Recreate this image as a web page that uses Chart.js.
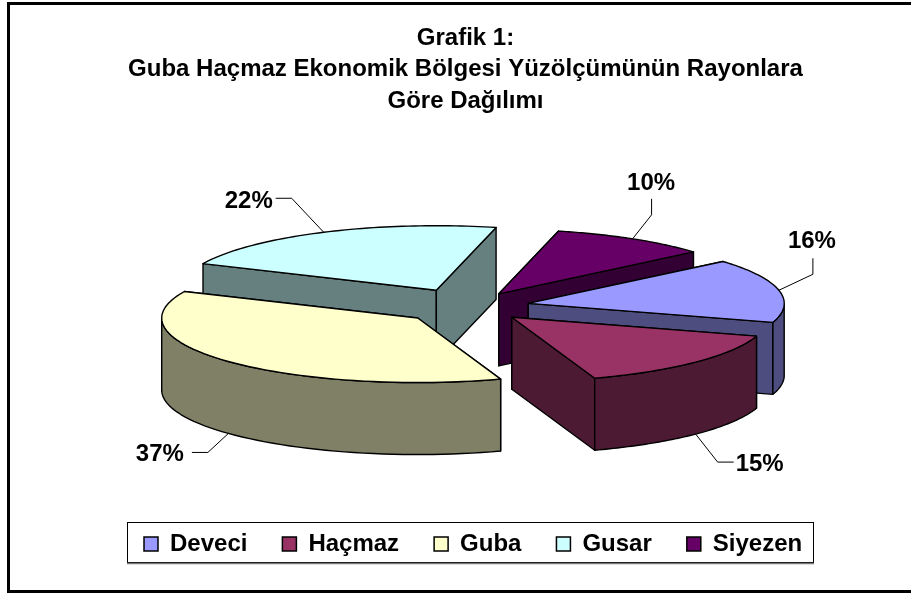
<!DOCTYPE html>
<html><head><meta charset="utf-8">
<style>html,body{margin:0;padding:0;background:#fff}canvas{display:block}</style>
<script src="https://cdn.jsdelivr.net/npm/chart.js@4"></script>
</head><body><canvas id="c" width="911" height="595"></canvas>
<script>
const categories = ['Deveci','Haçmaz','Guba','Gusar','Siyezen'];
const shares = [16,15,37,22,10];
const topColors = ['#9999FF','#993366','#FFFFCC','#CCFFFF','#660066'];
const sideColors = ['#4D4D80','#4D1A33','#808066','#668080','#330033'];
const titleLines = ['Grafik 1:','Guba Haçmaz Ekonomik Bölgesi Yüzölçümünün Rayonlara','Göre Dağılımı'];

const view = {cx:468, cy:306.5, squash:0.252, depth:72, explode:[61.5,61,68,72,59],
  wallOrder:[3,4,0,2,1]};
const callouts = [
 {elbow:[34,-16],end:[34,-32],text:[33,-49],wall:false},
 {elbow:[22,28],end:[38,28],text:[64,30],wall:true},
 {elbow:[-20.5,19],end:[-36.5,19],text:[-68.5,21],wall:true},
 {elbow:[-32,-34],end:[-48,-34],text:[-75,-31],wall:false},
 {elbow:[19,-24],end:[19,-40],text:[18.5,-55.5],wall:false}];

function apexOf(arc,i){
  const mid=(arc.startAngle+arc.endAngle)/2, e=view.explode[i];
  return {x:view.cx+e*Math.cos(mid), y:view.cy+e*Math.sin(mid)*view.squash};
}
function rimPoint(arc,i,a,dy){
  const p=apexOf(arc,i);
  return {x:p.x+arc.outerRadius*Math.cos(a), y:p.y+arc.outerRadius*Math.sin(a)*view.squash+(dy||0)};
}
function poly(ctx,pts,fill){
  ctx.beginPath();
  pts.forEach((p,k)=>k?ctx.lineTo(p.x,p.y):ctx.moveTo(p.x,p.y));
  ctx.closePath();
  ctx.fillStyle=fill; ctx.fill(); ctx.stroke();
}
const pie3d = {
  id:'pie3d',
  beforeDraw(chart){
    const {ctx}=chart;
    ctx.save();
    ctx.fillStyle='#fff'; ctx.fillRect(0,0,chart.width,chart.height);
    ctx.strokeStyle='#000'; ctx.lineWidth=3;
    ctx.strokeRect(8.5,3.5,920,588);
    ctx.restore();
  },
  afterLayout(chart){
    chart.legend.left=109;
    const t=chart.titleBlock; t.left+=10; t.right+=10;
  },
  beforeDatasetsDraw(chart){
    const {ctx}=chart, arcs=chart.getDatasetMeta(0).data;
    ctx.save();
    ctx.strokeStyle='#000'; ctx.lineWidth=1.4; ctx.lineJoin='round';
    view.wallOrder.forEach(i=>{
      const arc=arcs[i], s=arc.startAngle, e=arc.endAngle, A=apexOf(arc,i), D=view.depth;
      const down=p=>({x:p.x,y:p.y+D});
      [s,e].forEach(a=>{
        const R=rimPoint(arc,i,a);
        poly(ctx,[A,R,down(R),down(A)],sideColors[i]);
      });
      const n=60, upper=[], lower=[];
      for(let k=0;k<=n;k++){
        const a=s+(e-s)*k/n;
        if(Math.sin(a)>=-0.0001){ upper.push(rimPoint(arc,i,a)); lower.push(rimPoint(arc,i,a,D)); }
      }
      if(upper.length>1) poly(ctx,upper.concat(lower.reverse()),sideColors[i]);
    });
    view.wallOrder.forEach(i=>{
      const arc=arcs[i], A=apexOf(arc,i);
      ctx.save();
      ctx.translate(A.x,A.y); ctx.scale(1,view.squash); ctx.translate(-arc.x,-arc.y);
      arc.draw(ctx);
      ctx.restore();
      ctx.beginPath(); ctx.moveTo(A.x,A.y);
      for(let k=0;k<=60;k++){
        const p=rimPoint(arc,i,arc.startAngle+(arc.endAngle-arc.startAngle)*k/60);
        ctx.lineTo(p.x,p.y);
      }
      ctx.closePath(); ctx.stroke();
    });
    ctx.restore();
    return false;
  },
  afterDraw(chart){
    const {ctx}=chart, arcs=chart.getDatasetMeta(0).data;
    const total=shares.reduce((a,b)=>a+b,0);
    ctx.save();
    ctx.strokeStyle='#000'; ctx.lineWidth=1;
    ctx.strokeRect(127.5,522.5,686,40);
    ctx.strokeStyle='#777'; ctx.lineWidth=1.5;
    ctx.beginPath(); ctx.moveTo(127,563.5); ctx.lineTo(814,563.5); ctx.stroke();
    ctx.lineWidth=1; ctx.strokeStyle='#000'; ctx.fillStyle='#000';
    ctx.font='bold 24px "Liberation Sans"'; ctx.textAlign='center'; ctx.textBaseline='middle';
    arcs.forEach((arc,i)=>{
      const c=callouts[i], mid=(arc.startAngle+arc.endAngle)/2;
      const P=rimPoint(arc,i,mid,c.wall?view.depth:0);
      ctx.beginPath(); ctx.moveTo(P.x,P.y);
      ctx.lineTo(P.x+c.elbow[0],P.y+c.elbow[1]);
      ctx.lineTo(P.x+c.end[0],P.y+c.end[1]); ctx.stroke();
      ctx.fillText(Math.round(shares[i]/total*100)+'%',P.x+c.text[0],P.y+c.text[1]);
    });
    ctx.restore();
  }
};
new Chart(document.getElementById('c'),{
  type:'pie',
  data:{labels:categories,datasets:[{data:shares,backgroundColor:topColors,borderWidth:0}]},
  options:{
    responsive:false, animation:false, radius:256, rotation:49.5,
    layout:{padding:{top:23,bottom:29,left:0,right:0}},
    plugins:{
      tooltip:{enabled:false},
      title:{display:true,text:titleLines,color:'#000',
        font:{family:'"Liberation Sans"',size:24,weight:'bold',lineHeight:1.3},padding:{top:0,bottom:0}},
      legend:{position:'bottom',align:'start',labels:{color:'#000',boxWidth:14,boxHeight:14,padding:35,
        font:{family:'"Liberation Sans"',size:24,weight:'bold'},
        generateLabels(chart){
          const items=Chart.overrides.doughnut.plugins.legend.labels.generateLabels(chart);
          items.forEach(it=>{it.strokeStyle='#000';it.lineWidth=1.5;});
          return items;
        }}}
    }
  },
  plugins:[pie3d]
});
</script></body></html>
